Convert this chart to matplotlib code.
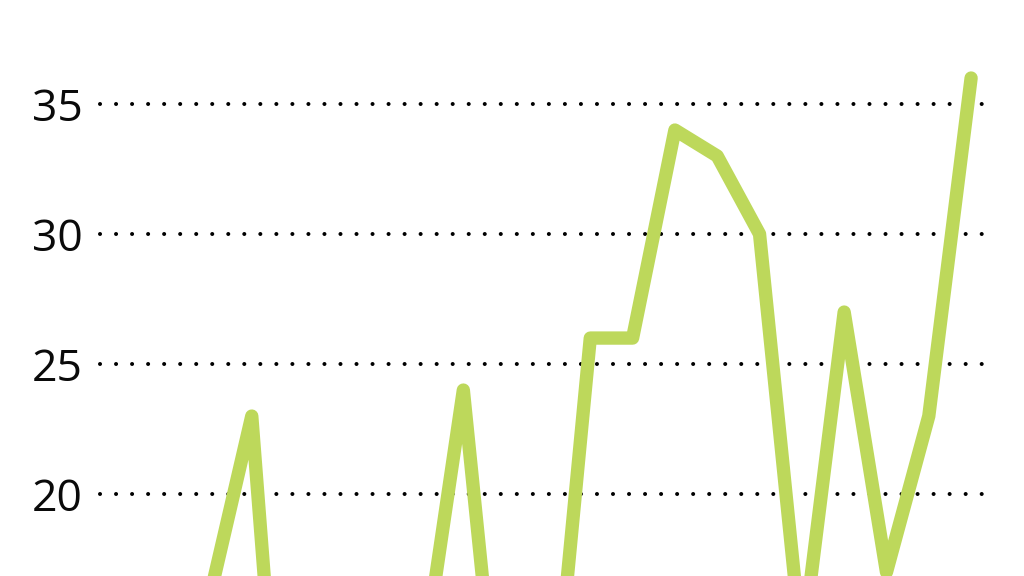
import matplotlib.pyplot as plt
from matplotlib.transforms import blended_transform_factory, offset_copy

years = [2000, 2001, 2002, 2003, 2004, 2005, 2006, 2007, 2008, 2009, 2010,
         2011, 2012, 2013, 2014, 2015, 2016, 2017, 2018, 2019, 2020]
values = [9, 12, 16, 23, 2, 6, 10, 13, 24, 8, 9,
          26, 26, 34, 33, 30, 14, 27, 17, 23, 36]
grid_values = [20, 25, 30, 35]

line_color = "#bdd85b"
text_color = "#0a0a0a"

fig = plt.figure(figsize=(10.24, 5.76), dpi=100)
fig.set_facecolor("white")
ax = fig.add_axes([0, 0, 1, 1])
ax.axis("off")

# the chart is cut off at the bottom, so the y range starts above zero
ax.set_xlim(1997.05, 2021.25)
ax.set_ylim(16.85, 39.0)

ax.plot(years, values, color=line_color, linewidth=9.6,
        solid_capstyle="round", solid_joinstyle="round", zorder=3)

trans = blended_transform_factory(ax.transAxes, ax.transData)
label_trans = offset_copy(trans, fig=fig, y=-17, units="dots")
for v in grid_values:
    ax.plot([0.098, 0.967], [v, v], transform=trans, color="black",
            linewidth=2.9, linestyle=(0, (0.01, 3.97)),
            dash_capstyle="round", zorder=2)
    ax.text(0.081, v, f"{v}", transform=label_trans, ha="right",
            va="baseline", fontsize=32, color=text_color, family="Open Sans")

fig.savefig("out.png", dpi=100)
